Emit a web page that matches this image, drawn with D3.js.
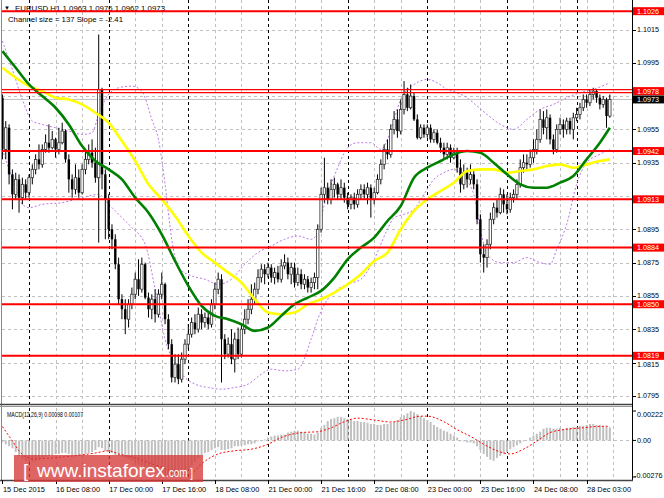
<!DOCTYPE html>
<html>
<head>
<meta charset="utf-8">
<script src="https://cdn.jsdelivr.net/npm/d3@7"></script>
<style>
  body { margin: 0; background: #fff; }
  svg text { font-family: "Liberation Sans", Arial, sans-serif; }
</style>
</head>
<body>
<div id="chart"></div>
<script>
// EURUSD H1 candles, bar 0 = 15 Dec 2015 16:00
var opens = [1.0974,1.0943,1.0956,1.0928,1.0916,1.0925,1.0914,1.0922,1.0917,1.0926,
  1.0931,1.0937,1.0934,1.0943,1.0947,1.0944,1.0949,1.0943,1.0947,1.0954,
  1.0937,1.0925,1.0919,1.0926,1.0917,1.0931,1.0937,1.0941,1.0935,1.0926,
  1.0979,1.0928,1.0913,1.0895,1.0889,1.0874,1.0853,1.0847,1.0841,1.0850,
  1.0856,1.0865,1.0859,1.0874,1.0854,1.0847,1.0853,1.0844,1.0856,1.0862,
  1.0841,1.0826,1.0806,1.0814,1.0805,1.0817,1.0826,1.0832,1.0839,1.0835,
  1.0844,1.0839,1.0842,1.0838,1.0850,1.0859,1.0865,1.0829,1.0820,1.0826,
  1.0817,1.0829,1.0820,1.0835,1.0841,1.0847,1.0853,1.0859,1.0866,1.0871,
  1.0868,1.0872,1.0866,1.0869,1.0865,1.0873,1.0875,1.0868,1.0872,1.0863,
  1.0868,1.0862,1.0865,1.0860,1.0863,1.0866,1.0895,1.0916,1.0920,1.0913,
  1.0919,1.0922,1.0916,1.0920,1.0914,1.0910,1.0914,1.0910,1.0916,1.0919,
  1.0916,1.0920,1.0913,1.0917,1.0925,1.0934,1.0943,1.0940,1.0955,1.0961,
  1.0954,1.0967,1.0976,1.0968,1.0975,1.0961,1.0950,1.0956,1.0952,1.0956,
  1.0949,1.0953,1.0947,1.0944,1.0940,1.0944,1.0938,1.0941,1.0932,1.0922,
  1.0929,1.0925,1.0928,1.0922,1.0901,1.0880,1.0878,1.0886,1.0901,1.0908,
  1.0905,1.0916,1.0910,1.0907,1.0914,1.0916,1.0922,1.0932,1.0935,1.0934,
  1.0938,1.0943,1.0949,1.0961,1.0956,1.0962,1.0949,1.0943,1.0955,1.0958,
  1.0955,1.0960,1.0955,1.0962,1.0964,1.0968,1.0973,1.0971,1.0976,1.0978,
  1.0974,1.0970,1.0973,1.0963];
var highs = [1.0976,1.0960,1.0958,1.0931,1.0929,1.0928,1.0926,1.0925,1.0928,1.0934,
  1.0940,1.0946,1.0946,1.0952,1.0958,1.0954,1.0950,1.0956,1.0959,1.0955,
  1.0940,1.0928,1.0934,1.0931,1.0934,1.0943,1.0946,1.0949,1.0944,1.1012,
  1.0980,1.0931,1.0916,1.0898,1.0892,1.0878,1.0856,1.0853,1.0853,1.0860,
  1.0869,1.0877,1.0878,1.0875,1.0857,1.0856,1.0859,1.0859,1.0869,1.0863,
  1.0844,1.0829,1.0820,1.0820,1.0821,1.0829,1.0838,1.0842,1.0844,1.0848,
  1.0847,1.0845,1.0845,1.0853,1.0863,1.0869,1.0868,1.0832,1.0830,1.0835,
  1.0833,1.0836,1.0838,1.0847,1.0853,1.0862,1.0863,1.0871,1.0874,1.0874,
  1.0875,1.0874,1.0872,1.0873,1.0877,1.0880,1.0878,1.0875,1.0875,1.0872,
  1.0871,1.0868,1.0867,1.0866,1.0869,1.0898,1.0920,1.0938,1.0923,1.0925,
  1.0926,1.0923,1.0925,1.0923,1.0917,1.0916,1.0917,1.0919,1.0922,1.0922,
  1.0923,1.0922,1.0920,1.0928,1.0937,1.0946,1.0949,1.0958,1.0966,1.0967,
  1.0973,1.0984,1.0980,1.0982,1.0977,1.0964,1.0958,1.0958,1.0958,1.0958,
  1.0955,1.0955,1.0950,1.0947,1.0947,1.0946,1.0944,1.0944,1.0937,1.0934,
  1.0932,1.0934,1.0931,1.0925,1.0904,1.0886,1.0889,1.0905,1.0911,1.0913,
  1.0920,1.0919,1.0916,1.0917,1.0919,1.0925,1.0937,1.0940,1.0940,1.0943,
  1.0949,1.0955,1.0967,1.0966,1.0967,1.0964,1.0952,1.0958,1.0962,1.0961,
  1.0962,1.0962,1.0965,1.0968,1.0971,1.0976,1.0976,1.0979,1.0980,1.0979,
  1.0976,1.0975,1.0974,1.0976];
var lows = [1.0937,1.0937,1.0922,1.0907,1.0913,1.0905,1.0910,1.0913,1.0914,1.0922,
  1.0928,1.0931,1.0932,1.0941,1.0941,1.0943,1.0938,1.0940,1.0946,1.0935,
  1.0917,1.0914,1.0916,1.0914,1.0916,1.0928,1.0934,1.0932,1.0923,1.0887,
  1.0919,1.0889,1.0889,1.0883,1.0871,1.0850,1.0841,1.0832,1.0836,1.0847,
  1.0853,1.0855,1.0857,1.0853,1.0842,1.0841,1.0839,1.0842,1.0853,1.0838,
  1.0823,1.0803,1.0803,1.0802,1.0803,1.0814,1.0823,1.0830,1.0832,1.0833,
  1.0835,1.0836,1.0835,1.0836,1.0847,1.0856,1.0803,1.0817,1.0818,1.0814,
  1.0809,1.0817,1.0818,1.0832,1.0838,1.0844,1.0850,1.0856,1.0863,1.0862,
  1.0866,1.0863,1.0862,1.0863,1.0863,1.0871,1.0865,1.0862,1.0860,1.0861,
  1.0859,1.0859,1.0857,1.0857,1.0859,1.0859,1.0893,1.0911,1.0910,1.0910,
  1.0914,1.0913,1.0913,1.0911,1.0907,1.0907,1.0907,1.0908,1.0913,1.0913,
  1.0910,1.0902,1.0910,1.0916,1.0922,1.0931,1.0937,1.0938,1.0952,1.0950,
  1.0952,1.0964,1.0966,1.0967,1.0960,1.0949,1.0949,1.0950,1.0950,1.0947,
  1.0947,1.0946,1.0941,1.0937,1.0937,1.0935,1.0937,1.0929,1.0917,1.0919,
  1.0920,1.0922,1.0919,1.0898,1.0875,1.0869,1.0872,1.0883,1.0898,1.0902,
  1.0904,1.0905,1.0904,1.0905,1.0911,1.0913,1.0920,1.0929,1.0931,1.0932,
  1.0935,1.0940,1.0947,1.0952,1.0949,1.0946,1.0940,1.0941,1.0952,1.0950,
  1.0952,1.0952,1.0949,1.0960,1.0961,1.0966,1.0968,1.0969,1.0973,1.0971,
  1.0967,1.0968,1.0956,1.0962];
var closes = [1.0943,1.0956,1.0928,1.0916,1.0925,1.0914,1.0922,1.0917,1.0926,1.0931,
  1.0937,1.0934,1.0943,1.0947,1.0944,1.0949,1.0943,1.0947,1.0954,1.0937,
  1.0925,1.0919,1.0926,1.0917,1.0931,1.0937,1.0941,1.0935,1.0926,1.0979,
  1.0928,1.0913,1.0895,1.0889,1.0874,1.0853,1.0847,1.0841,1.0850,1.0856,
  1.0865,1.0859,1.0874,1.0854,1.0847,1.0853,1.0844,1.0856,1.0862,1.0841,
  1.0826,1.0806,1.0814,1.0805,1.0817,1.0826,1.0832,1.0839,1.0835,1.0844,
  1.0839,1.0842,1.0838,1.0850,1.0859,1.0865,1.0829,1.0820,1.0826,1.0817,
  1.0829,1.0820,1.0835,1.0841,1.0847,1.0853,1.0859,1.0866,1.0871,1.0868,
  1.0872,1.0866,1.0869,1.0865,1.0873,1.0875,1.0868,1.0872,1.0863,1.0868,
  1.0862,1.0865,1.0860,1.0863,1.0866,1.0895,1.0916,1.0920,1.0913,1.0919,
  1.0922,1.0916,1.0920,1.0914,1.0910,1.0914,1.0910,1.0916,1.0919,1.0916,
  1.0920,1.0913,1.0917,1.0925,1.0934,1.0943,1.0940,1.0955,1.0961,1.0954,
  1.0967,1.0976,1.0968,1.0975,1.0961,1.0950,1.0956,1.0952,1.0956,1.0949,
  1.0953,1.0947,1.0944,1.0940,1.0944,1.0938,1.0941,1.0932,1.0922,1.0929,
  1.0925,1.0928,1.0922,1.0901,1.0880,1.0878,1.0886,1.0901,1.0908,1.0905,
  1.0916,1.0910,1.0907,1.0914,1.0916,1.0922,1.0932,1.0935,1.0934,1.0938,
  1.0943,1.0949,1.0961,1.0956,1.0962,1.0949,1.0943,1.0955,1.0958,1.0955,
  1.0960,1.0955,1.0962,1.0964,1.0968,1.0973,1.0971,1.0976,1.0978,1.0974,
  1.0970,1.0973,1.0963,1.0973];

// moving averages every 4 bars
var maBars = [0,4,8,12,16,20,24,28,32,36,40,44,48,52,56,60,64,68,72,76,80,84,88,92,
  96,100,104,108,112,116,120,124,128,132,136,140,144,148,152,156,160,164,168,172,176,180,183];
var maGreen = [1.1002,1.0992,1.0982,1.0975,1.0968,1.0958,1.0945,1.0936,1.0931,1.0925,1.0914,1.0905,
  1.0892,1.0876,1.0861,1.0849,1.0843,1.0841,1.0838,1.0834,1.0836,1.0843,1.0850,1.0854,
  1.0858,1.0866,1.0877,1.0884,1.0890,1.0900,1.0909,1.0926,1.0932,1.0936,1.0940,1.0942,
  1.0941,1.0935,1.0928,1.0922,1.0920,1.0920,1.0923,1.0927,1.0937,1.0947,1.0956];
var maYellow = [1.0992,1.0986,1.0981,1.0978,1.0974,1.0973,1.0970,1.0965,1.0959,1.0948,1.0936,1.0922,
  1.0913,1.0903,1.0891,1.0881,1.0875,1.0869,1.0863,1.0853,1.0845,1.0844,1.0845,1.0850,
  1.0853,1.0857,1.0862,1.0868,1.0876,1.0881,1.0895,1.0906,1.0913,1.0918,1.0923,1.0930,
  1.0931,1.0931,1.0929,1.0930,1.0931,1.0933,1.0934,1.0932,1.0934,1.0936,1.0937];

// bands (dotted purple)
var upperBars = [0,3,6,9,12,16,20,24,27,29,31,35,39,42,45,47,49,51,53,57,61,65,69,73,77,81,85,89,93,95,
  97,99,101,104,107,111,114,116,118,120,122,124,128,131,134,137,140,143,146,150,154,158,162,166,170,174,178,183];
var bandUpper = [1.1008,1.0991,1.0973,1.0960,1.0958,1.0956,1.0954,1.0952,1.0953,1.0964,
  1.0973,1.0980,1.0981,1.0978,1.0961,1.0949,1.0922,1.0889,1.0872,1.0867,
  1.0865,1.0862,1.0865,1.0874,1.0881,1.0885,1.0889,1.0891,1.0889,1.0893,
  1.0910,1.0922,1.0932,1.0944,1.0947,1.0947,1.0943,1.0949,1.0961,1.0973,
  1.0979,1.0982,1.0985,1.0983,1.0979,1.0977,1.0974,1.0969,1.0964,1.0958,
  1.0955,1.0961,1.0967,1.0970,1.0974,1.0977,1.0979,1.0983];
var lowerBars = [0,3,6,8,12,18,24,29,32,35,39,43,46,49,52,55,58,62,66,70,74,78,81,85,89,93,95,98,101,104,
  108,112,116,118,121,124,127,130,133,136,139,142,144,146,150,154,158,162,165,167,170,173,176,180,183];
var bandLower = [1.0943,1.0925,1.0910,1.0908,1.0910,1.0911,1.0914,1.0916,1.0910,1.0904,
  1.0896,1.0886,1.0859,1.0829,1.0814,1.0806,1.0802,1.0800,1.0799,1.0800,
  1.0802,1.0808,1.0811,1.0810,1.0811,1.0829,1.0841,1.0853,1.0859,1.0862,
  1.0865,1.0877,1.0895,1.0902,1.0904,1.0907,1.0916,1.0925,1.0929,1.0931,
  1.0926,1.0916,1.0895,1.0880,1.0875,1.0875,1.0878,1.0875,1.0874,1.0883,
  1.0898,1.0922,1.0935,1.0940,1.0943];

// MACD(12,26,9) main (histogram) per bar, signal sampled
var macdMain = [-0.00015,-0.00029,-0.00044,-0.00059,-0.00088,-0.00117,-0.00139,-0.00154,-0.00161,-0.00161,
  -0.00154,-0.00146,-0.00132,-0.00124,-0.00117,-0.00110,-0.00102,-0.00102,-0.00095,-0.00095,
  -0.00102,-0.00110,-0.00117,-0.00117,-0.00110,-0.00102,-0.00095,-0.00088,-0.00073,-0.00051,
  -0.00059,-0.00081,-0.00088,-0.00095,-0.00110,-0.00117,-0.00124,-0.00132,-0.00139,-0.00154,
  -0.00168,-0.00183,-0.00190,-0.00205,-0.00220,-0.00227,-0.00242,-0.00249,-0.00256,-0.00264,
  -0.00270,-0.00276,-0.00274,-0.00268,-0.00256,-0.00242,-0.00220,-0.00190,-0.00161,-0.00132,
  -0.00110,-0.00095,-0.00088,-0.00073,-0.00059,-0.00051,-0.00073,-0.00073,-0.00066,-0.00059,
  -0.00044,-0.00044,-0.00037,-0.00037,-0.00029,-0.00029,-0.00022,-0.00007,0.00002,0.00007,
  0.00022,0.00029,0.00037,0.00037,0.00044,0.00044,0.00059,0.00066,0.00073,0.00073,
  0.00066,0.00059,0.00051,0.00051,0.00044,0.00059,0.00095,0.00117,0.00146,0.00161,
  0.00168,0.00176,0.00176,0.00168,0.00161,0.00154,0.00146,0.00146,0.00139,0.00139,
  0.00132,0.00124,0.00124,0.00117,0.00117,0.00124,0.00124,0.00132,0.00139,0.00154,
  0.00176,0.00190,0.00205,0.00222,0.00212,0.00198,0.00183,0.00168,0.00154,0.00139,
  0.00117,0.00102,0.00088,0.00073,0.00066,0.00051,0.00037,0.00022,-0.00007,-0.00007,
  -0.00015,-0.00015,-0.00022,-0.00044,-0.00073,-0.00102,-0.00124,-0.00146,-0.00154,-0.00132,
  -0.00117,-0.00102,-0.00088,-0.00066,-0.00051,-0.00037,-0.00022,-0.00007,0.00001,0.00022,
  0.00037,0.00051,0.00066,0.00088,0.00095,0.00095,0.00088,0.00088,0.00095,0.00088,
  0.00095,0.00095,0.00102,0.00102,0.00110,0.00110,0.00117,0.00124,0.00124,0.00117,
  0.00117,0.00110,0.00102,0.00098];
var signalBars = [0,3,5,7,10,15,22,28,32,35,40,45,50,56,57,60,65,70,75,80,84,90,95,99,103,
  107,112,117,121,126,128,133,137,141,145,149,153,157,161,165,169,175,179,183];
var macdSignal = [0.00105,-0.00005,-0.00078,-0.00124,-0.00139,-0.00132,-0.00115,-0.00095,-0.00078,-0.00102,
  -0.00132,-0.00176,-0.00220,-0.00261,-0.00250,-0.00176,-0.00102,-0.00078,-0.00066,-0.00029,
  0.00022,0.00059,0.00066,0.00095,0.00141,0.00168,0.00154,0.00139,0.00154,0.00183,
  0.00183,0.00141,0.00081,0.00031,-0.00029,-0.00078,-0.00102,-0.00066,-0.00005,0.00059,
  0.00081,0.00095,0.00105,0.00107];

var levels = [1.1026, 1.0978, 1.0942, 1.0913, 1.0884, 1.0850, 1.0819];
var lastPrice = 1.0973;
var priceTicks = [1.0795,1.0815,1.0835,1.0855,1.0875,1.0895,1.0915,1.0935,1.0955,1.0975,1.0995,1.1015];
var macdTicks = [0.00222, 0, -0.00276];
var macdTickLabels = ["0.00222", "0.00", "-0.00276"];
var timeLabels = ["15 Dec 2015","16 Dec 08:00","17 Dec 00:00","17 Dec 16:00","18 Dec 08:00","21 Dec 00:00",
  "21 Dec 16:00","22 Dec 08:00","23 Dec 00:00","23 Dec 16:00","24 Dec 08:00","28 Dec 03:00"];
var timeLabelBars = [0,16,32,48,64,80,96,112,128,144,160,176];
var daySepBars = [8,32,56,80,104,128,152,173];

var width = 664, height = 498;
var left = 2, right = 632, mainBottom = 404, macdTop = 406, macdBottom = 480;
var boxH = 8;

var svg = d3.select('#chart').append('svg')
  .attr('width', width).attr('height', height)
  .style('display', 'block');

svg.append('rect').attr('width', width).attr('height', height).attr('fill', '#fff');

var x = d3.scaleLinear().domain([0, 183]).range([2.45, 2.45 + 183 * 3.319]);
var y = d3.scaleLinear().domain([1.0795, 1.1015]).range([395.8, 29.5]);
var ym = d3.scaleLinear().domain([-0.00276, 0.00222]).range([477, 411]);

svg.append('clipPath').attr('id', 'clipMain').append('rect')
  .attr('x', left).attr('y', 0).attr('width', right - left).attr('height', mainBottom);
svg.append('clipPath').attr('id', 'clipMacd').append('rect')
  .attr('x', left).attr('y', macdTop).attr('width', right - left).attr('height', macdBottom - macdTop);

// grid
var gridBars = d3.range(16, 185, 8).filter(function(i) { return daySepBars.indexOf(i) < 0; });
svg.append('g').selectAll('line').data(gridBars).enter().append('line')
  .attr('x1', function(d) { return Math.round(x(d)) + 0.5; })
  .attr('x2', function(d) { return Math.round(x(d)) + 0.5; })
  .attr('y1', 0).attr('y2', macdBottom)
  .attr('stroke', '#c0c0c0').attr('stroke-dasharray', '3,3');

svg.append('g').selectAll('line').data(priceTicks).enter().append('line')
  .attr('x1', left).attr('x2', right)
  .attr('y1', function(d) { return Math.round(y(d)) + 0.5; })
  .attr('y2', function(d) { return Math.round(y(d)) + 0.5; })
  .attr('stroke', '#c0c0c0').attr('stroke-dasharray', '3,3');

svg.append('line').attr('x1', left).attr('x2', right)
  .attr('y1', Math.round(ym(0)) + 0.5).attr('y2', Math.round(ym(0)) + 0.5)
  .attr('stroke', '#c0c0c0').attr('stroke-dasharray', '3,3');

svg.append('g').selectAll('line').data(daySepBars).enter().append('line')
  .attr('x1', function(d) { return Math.round(x(d)) + 0.5; })
  .attr('x2', function(d) { return Math.round(x(d)) + 0.5; })
  .attr('y1', 0).attr('y2', macdBottom)
  .attr('stroke', '#000').attr('stroke-dasharray', '3,3');

// header text
svg.append('text').attr('x', 4).attr('y', 10).attr('font-size', 6).text('\u25BC');
svg.append('text').attr('x', 15).attr('y', 10.5).attr('font-size', 7.6)
  .attr('textLength', 150).attr('lengthAdjust', 'spacingAndGlyphs')
  .text('EURUSD,H1  1.0963 1.0976 1.0962 1.0973');
svg.append('text').attr('x', 8).attr('y', 21.5).attr('font-size', 7.6)
  .attr('textLength', 115).attr('lengthAdjust', 'spacingAndGlyphs')
  .text('Channel size = 137 Slope = -2.41');

var main = svg.append('g').attr('clip-path', 'url(#clipMain)');

// bands
function bandLine(bars) {
  return d3.line()
    .x(function(d, i) { return x(bars[i]); })
    .y(function(d) { return y(d); })
    .curve(d3.curveMonotoneX);
}
main.append('path').attr('d', bandLine(upperBars)(bandUpper))
  .attr('fill', 'none').attr('stroke', '#bb77e6').attr('stroke-width', 1).attr('stroke-dasharray', '2,2');
main.append('path').attr('d', bandLine(lowerBars)(bandLower))
  .attr('fill', 'none').attr('stroke', '#bb77e6').attr('stroke-width', 1).attr('stroke-dasharray', '2,2');

// current price line
main.append('line').attr('x1', left).attr('x2', right)
  .attr('y1', y(lastPrice)).attr('y2', y(lastPrice))
  .attr('stroke', '#c0c0c0').attr('stroke-width', 1);

// candles
var bars = d3.range(closes.length);
var candle = main.append('g').selectAll('g').data(bars).enter().append('g');
candle.append('line')
  .attr('x1', function(i) { return x(i); }).attr('x2', function(i) { return x(i); })
  .attr('y1', function(i) { return y(highs[i]); }).attr('y2', function(i) { return y(lows[i]); })
  .attr('stroke', '#000').attr('stroke-width', 1);
candle.append('rect')
  .attr('x', function(i) { return x(i) - 1.2; })
  .attr('width', 2.4)
  .attr('y', function(i) { return y(Math.max(opens[i], closes[i])); })
  .attr('height', function(i) { return Math.max(1, Math.abs(y(opens[i]) - y(closes[i]))); })
  .attr('fill', function(i) { return closes[i] >= opens[i] ? '#fff' : '#000'; })
  .attr('stroke', function(i) { return closes[i] >= opens[i] ? '#333' : 'none'; })
  .attr('stroke-width', 0.8);

// moving averages
var maLine = d3.line()
  .x(function(d, i) { return x(maBars[i]); })
  .y(function(d) { return y(d); })
  .curve(d3.curveMonotoneX);
main.append('path').attr('d', maLine(maYellow))
  .attr('fill', 'none').attr('stroke', '#ffff00').attr('stroke-width', 2.6);
main.append('path').attr('d', maLine(maGreen))
  .attr('fill', 'none').attr('stroke', '#008000').attr('stroke-width', 2.6);

// red levels
levels.forEach(function(v) {
  if (v === 1.0978) {
    main.append('line').attr('x1', left).attr('x2', right)
      .attr('y1', y(v) - 1.5).attr('y2', y(v) - 1.5).attr('stroke', '#ff0000').attr('stroke-width', 1.2);
    main.append('line').attr('x1', left).attr('x2', right)
      .attr('y1', y(v) + 1.5).attr('y2', y(v) + 1.5).attr('stroke', '#ff0000').attr('stroke-width', 1.2);
  } else {
    main.append('line').attr('x1', left).attr('x2', right)
      .attr('y1', y(v)).attr('y2', y(v)).attr('stroke', '#ff0000').attr('stroke-width', 2);
  }
});

// MACD panel
var macd = svg.append('g').attr('clip-path', 'url(#clipMacd)');
macd.selectAll('rect').data(bars).enter().append('rect')
  .attr('x', function(i) { return x(i) - 1; })
  .attr('width', 2)
  .attr('y', function(i) { return Math.min(ym(0), ym(macdMain[i])); })
  .attr('height', function(i) { return Math.abs(ym(macdMain[i]) - ym(0)); })
  .attr('fill', '#c0c0c0');
macd.append('path')
  .attr('d', d3.line()
    .x(function(d, i) { return x(signalBars[i]); })
    .y(function(d) { return ym(d); })
    .curve(d3.curveMonotoneX)(macdSignal))
  .attr('fill', 'none').attr('stroke', '#ff0000').attr('stroke-width', 1).attr('stroke-dasharray', '2,2');

svg.append('text').attr('x', 7).attr('y', 417).attr('font-size', 7.6)
  .attr('textLength', 76).attr('lengthAdjust', 'spacingAndGlyphs')
  .text('MACD(12,26,9) 0.00098 0.00107');

// frames
svg.append('line').attr('x1', 1.5).attr('x2', 1.5).attr('y1', 0).attr('y2', macdBottom).attr('stroke', '#888');
svg.append('line').attr('x1', right + 0.5).attr('x2', right + 0.5).attr('y1', 0).attr('y2', macdBottom + 1).attr('stroke', '#000');
svg.append('line').attr('x1', 0).attr('x2', right).attr('y1', mainBottom + 0.5).attr('y2', mainBottom + 0.5).attr('stroke', '#444').attr('stroke-width', 1.5);
svg.append('line').attr('x1', 0).attr('x2', right).attr('y1', macdTop + 0.5).attr('y2', macdTop + 0.5).attr('stroke', '#999');
svg.append('line').attr('x1', 0).attr('x2', right + 1).attr('y1', macdBottom + 0.5).attr('y2', macdBottom + 0.5).attr('stroke', '#444').attr('stroke-width', 1.5);

// price axis: labels hidden where a level box sits on them, nudged where a box is close
var boxPrices = levels.concat([lastPrice]);
function labelShift(d) {
  var shift = 0;
  boxPrices.forEach(function(b) {
    var dy = y(d) - y(b);
    if (Math.abs(dy) < 8.5 && Math.abs(dy) >= 4) shift = dy > 0 ? 8.5 - dy : -(8.5 + dy);
  });
  return shift;
}
var shownTicks = priceTicks.filter(function(d) {
  return boxPrices.every(function(b) { return Math.abs(y(d) - y(b)) >= 4; });
});
var pAxis = svg.append('g');
pAxis.selectAll('line').data(priceTicks).enter().append('line')
  .attr('x1', right).attr('x2', right + 4)
  .attr('y1', function(d) { return Math.round(y(d)) + 0.5; })
  .attr('y2', function(d) { return Math.round(y(d)) + 0.5; })
  .attr('stroke', '#000');
pAxis.selectAll('text').data(shownTicks).enter().append('text')
  .attr('x', 637).attr('y', function(d) { return y(d) + 2.5 + labelShift(d); })
  .attr('font-size', 7.2).attr('fill', '#000')
  .text(function(d) { return d.toFixed(4); });

// macd axis
svg.append('g').selectAll('text').data(macdTicks).enter().append('text')
  .attr('x', function(d, i) { return i === 2 ? 634 : 637; })
  .attr('y', function(d, i) { return ym(d) + (i === 0 ? 5.5 : (i === 2 ? 0.5 : 2.5)); })
  .attr('font-size', 7.2)
  .text(function(d, i) { return macdTickLabels[i]; });
svg.append('g').selectAll('line').data(macdTicks).enter().append('line')
  .attr('x1', right).attr('x2', right + 4)
  .attr('y1', function(d) { return ym(d); }).attr('y2', function(d) { return ym(d); })
  .attr('stroke', '#000');

// level boxes
levels.forEach(function(v) {
  svg.append('rect').attr('x', 633).attr('y', y(v) - boxH / 2).attr('width', 31).attr('height', boxH).attr('fill', '#ff0000');
  svg.append('text').attr('x', 637).attr('y', y(v) + 2.5).attr('font-size', 7.2).attr('fill', '#fff').text(v.toFixed(4));
});
svg.append('rect').attr('x', 633).attr('y', y(lastPrice) - boxH / 2).attr('width', 31).attr('height', boxH).attr('fill', '#000');
svg.append('text').attr('x', 637).attr('y', y(lastPrice) + 2.5).attr('font-size', 7.2).attr('fill', '#fff').text(lastPrice.toFixed(4));

// time axis
var tAxis = svg.append('g');
tAxis.selectAll('line').data(timeLabelBars).enter().append('line')
  .attr('x1', function(d) { return Math.round(x(d)) + 0.5; })
  .attr('x2', function(d) { return Math.round(x(d)) + 0.5; })
  .attr('y1', macdBottom).attr('y2', macdBottom + 4)
  .attr('stroke', '#000');
tAxis.selectAll('text').data(timeLabelBars).enter().append('text')
  .attr('x', function(d) { return x(d) + 0.5; })
  .attr('y', 492)
  .attr('font-size', 7.4)
  .text(function(d, i) { return timeLabels[i]; });

// logo: one text element, parts as tspans
var logo = svg.append('g');
logo.append('rect').attr('x', 14).attr('y', 455).attr('width', 189).attr('height', 27)
  .attr('fill', 'rgb(214,58,58)').attr('opacity', 0.78);
var logoText = logo.append('text').attr('y', 477).attr('fill', '#fff')
  .attr('font-family', 'Open Sans, sans-serif');
logoText.append('tspan').attr('x', 23).attr('font-size', 19).attr('font-weight', 300).text('[');
logoText.append('tspan').attr('x', 37).attr('font-size', 19)
  .attr('textLength', 128).attr('lengthAdjust', 'spacingAndGlyphs').text('www.instaforex');
logoText.append('tspan').attr('x', 166).attr('font-size', 13)
  .attr('textLength', 27).attr('lengthAdjust', 'spacingAndGlyphs').text('.com ]');
</script>
</body>
</html>
